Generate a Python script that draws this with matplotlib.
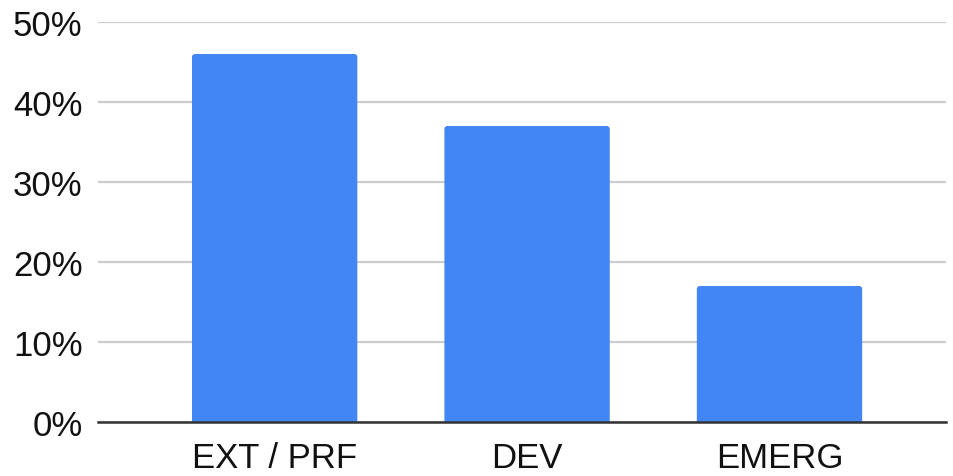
import matplotlib
matplotlib.use("Agg")
import matplotlib.pyplot as plt
from matplotlib.patches import FancyBboxPatch
from matplotlib.ticker import FuncFormatter

categories = ["EXT / PRF", "DEV", "EMERG"]
shares = [46, 37, 17]  # percent
y_ticks = [0, 10, 20, 30, 40, 50]

plt.rcParams["font.family"] = ["Liberation Sans", "DejaVu Sans"]

fig = plt.figure(figsize=(9.54, 4.77), dpi=100)
ax = fig.add_axes([0.1027, 0.1132, 0.889, 0.8386])

x = range(len(categories))
bars = ax.bar(x, shares, width=0.655, color="#4285F4", zorder=3)

ax.set_xlim(-0.70, 2.66)
ax.set_ylim(0, 50)

# Soften the top corners of each bar: redraw it as a rounded box that
# starts below the baseline, so only the upper corners show rounding.
fig.canvas.draw()
px_per_x = ax.transData.transform((1, 0))[0] - ax.transData.transform((0, 0))[0]
px_per_y = ax.transData.transform((0, 1))[1] - ax.transData.transform((0, 0))[1]
radius_px = 3.0
for bar in bars:
    x0, w, h = bar.get_x(), bar.get_width(), bar.get_height()
    bar.set_visible(False)
    rounded = FancyBboxPatch(
        (x0, -2), w, h + 2,
        boxstyle=f"round,pad=0,rounding_size={radius_px / px_per_x}",
        mutation_aspect=px_per_x / px_per_y,
        facecolor="#4285F4", edgecolor="none", zorder=3,
    )
    ax.add_patch(rounded)

ax.set_yticks(y_ticks)
ax.yaxis.set_major_formatter(FuncFormatter(lambda v, _: f"{v:.0f}%"))
ax.set_xticks(list(x))
ax.set_xticklabels(categories)

ax.grid(axis="y", color="#cccccc", linewidth=1.6, zorder=0)
ax.grid(axis="x", visible=False)
for side in ("top", "right", "left"):
    ax.spines[side].set_visible(False)
ax.spines["bottom"].set_color("#333333")
ax.spines["bottom"].set_linewidth(1.8)
ax.spines["bottom"].set_zorder(4)

ax.tick_params(axis="y", length=0, pad=11, labelsize=25, labelcolor="#111111")
ax.tick_params(axis="x", length=0, pad=14, labelsize=25, labelcolor="#111111")

fig.savefig("out.png", dpi=100, facecolor="white")
